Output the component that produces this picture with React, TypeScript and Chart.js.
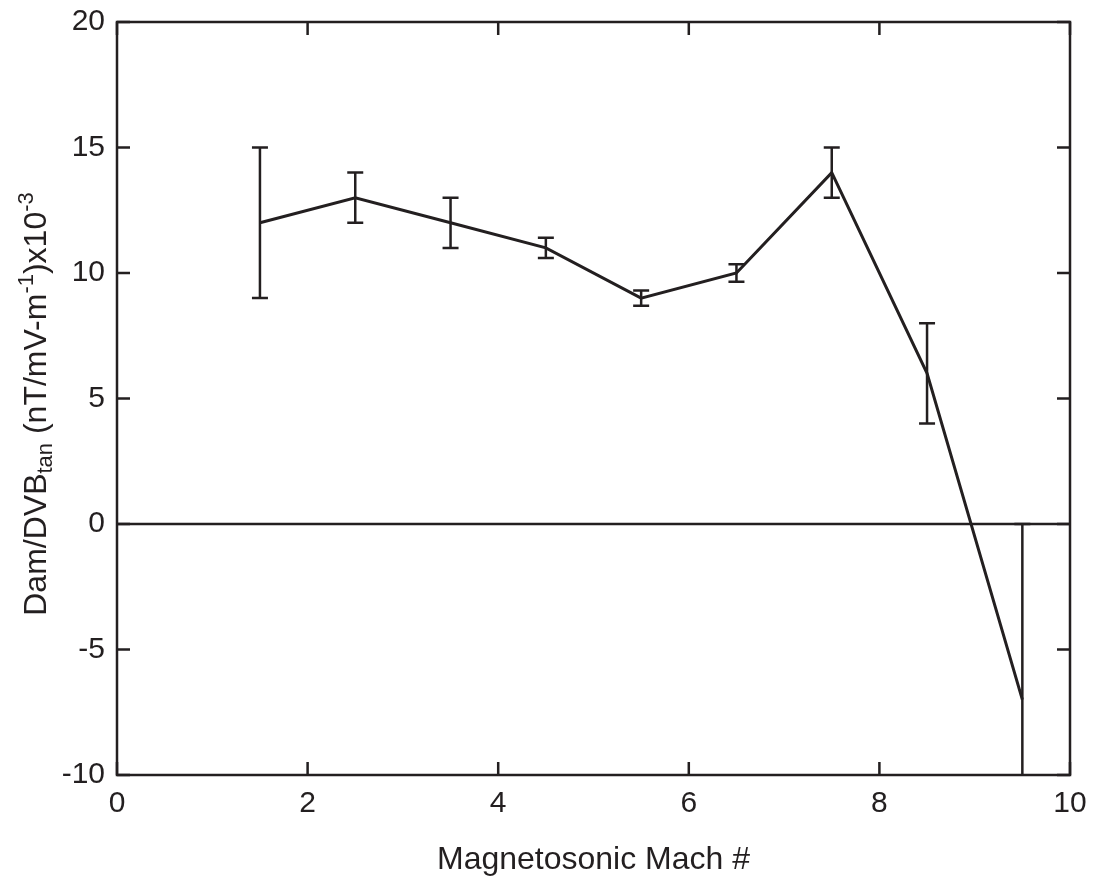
import React, { useEffect, useRef } from 'react';
import { Chart, registerables } from 'chart.js';

Chart.register(...registerables);

// ---- Data ----
const machNumbers = [1.5, 2.5, 3.5, 4.5, 5.5, 6.5, 7.5, 8.5, 9.5];
const ratioValues = [12, 13, 12, 11, 9, 10, 14, 6, -7];
const ratioErrors = [3, 1, 1, 0.4, 0.3, 0.35, 1, 2, 7];
const zeroLineX = [0, 10];
const zeroLineY = [0, 0];
const xTickValues = [0, 2, 4, 6, 8, 10];
const yTickValues = [-10, -5, 0, 5, 10, 15, 20];
const xAxisTitle = 'Magnetosonic Mach #';
// y title pieces: [text, kind]  kind: 'n' normal, 'sub', 'sup'
const yTitleParts: [string, string][] = [
  ['Dam/DVB', 'n'],
  ['tan', 'sub'],
  [' (nT/mV-m', 'n'],
  ['-1', 'sup'],
  [')x10', 'n'],
  ['-3', 'sup'],
];

const INK = '#231f20';
const FONT = '"Liberation Sans", Arial, Helvetica, sans-serif';
const TICK_SIZE = 30;
const TITLE_SIZE = 32;
const SMALL_SIZE = 22;

const decorPlugin = {
  id: 'decor',
  afterDatasetsDraw(chart: any) {
    const { ctx, chartArea, scales } = chart;
    const xs = scales.x;
    const ys = scales.y;
    const { left, right, top, bottom } = chartArea;

    // Error bars (clipped to plot area)
    ctx.save();
    ctx.beginPath();
    ctx.rect(left, top, right - left, bottom - top);
    ctx.clip();
    ctx.strokeStyle = INK;
    ctx.lineWidth = 2.5;
    const cap = 8;
    machNumbers.forEach((m, i) => {
      const px = xs.getPixelForValue(m);
      const y1 = ys.getPixelForValue(ratioValues[i] + ratioErrors[i]);
      const y2 = ys.getPixelForValue(ratioValues[i] - ratioErrors[i]);
      ctx.beginPath();
      ctx.moveTo(px, y1);
      ctx.lineTo(px, y2);
      ctx.moveTo(px - cap, y1);
      ctx.lineTo(px + cap, y1);
      ctx.moveTo(px - cap, y2);
      ctx.lineTo(px + cap, y2);
      ctx.stroke();
    });
    ctx.restore();

    // Frame and inward ticks
    ctx.save();
    ctx.strokeStyle = INK;
    ctx.lineWidth = 2.5;
    ctx.strokeRect(left, top, right - left, bottom - top);
    const tl = 13;
    ctx.beginPath();
    xTickValues.forEach((v) => {
      const px = xs.getPixelForValue(v);
      ctx.moveTo(px, bottom);
      ctx.lineTo(px, bottom - tl);
      ctx.moveTo(px, top);
      ctx.lineTo(px, top + tl);
    });
    yTickValues.forEach((v) => {
      const py = ys.getPixelForValue(v);
      ctx.moveTo(left, py);
      ctx.lineTo(left + tl, py);
      ctx.moveTo(right, py);
      ctx.lineTo(right - tl, py);
    });
    ctx.stroke();
    ctx.restore();

    // X axis title
    ctx.save();
    ctx.fillStyle = INK;
    ctx.font = `${TITLE_SIZE}px ${FONT}`;
    ctx.textAlign = 'center';
    ctx.textBaseline = 'alphabetic';
    ctx.fillText(xAxisTitle, (left + right) / 2, 869);
    ctx.restore();

    // Y axis title with sub/superscripts
    ctx.save();
    ctx.fillStyle = INK;
    ctx.textBaseline = 'alphabetic';
    ctx.textAlign = 'left';
    let total = 0;
    const widths = yTitleParts.map(([t, k]) => {
      ctx.font = `${k === 'n' ? TITLE_SIZE : SMALL_SIZE}px ${FONT}`;
      const w = ctx.measureText(t).width;
      total += w;
      return w;
    });
    const cy = 404;
    ctx.translate(46, cy);
    ctx.rotate(-Math.PI / 2);
    let x = -total / 2;
    yTitleParts.forEach(([t, k], i) => {
      ctx.font = `${k === 'n' ? TITLE_SIZE : SMALL_SIZE}px ${FONT}`;
      const dy = k === 'sub' ? 6 : k === 'sup' ? -13 : 0;
      ctx.fillText(t, x, dy);
      x += widths[i];
    });
    ctx.restore();
  },
};

export default function App() {
  const canvasRef = useRef<HTMLCanvasElement | null>(null);

  useEffect(() => {
    const canvas = canvasRef.current;
    if (!canvas) return;
    const chart = new Chart(canvas, {
      type: 'line',
      data: {
        datasets: [
          {
            label: 'ratio',
            data: machNumbers.map((m, i) => ({ x: m, y: ratioValues[i] })),
            borderColor: INK,
            borderWidth: 3,
            pointRadius: 0,
            fill: false,
            tension: 0,
          },
          {
            label: 'zero',
            data: zeroLineX.map((v, i) => ({ x: v, y: zeroLineY[i] })),
            borderColor: INK,
            borderWidth: 2.5,
            pointRadius: 0,
            fill: false,
          },
        ],
      },
      options: {
        responsive: false,
        animation: false,
        devicePixelRatio: 1,
        layout: { padding: { top: 22, right: 24, left: 0, bottom: 0 } },
        plugins: {
          legend: { display: false },
          tooltip: { enabled: false },
          title: { display: false },
        },
        scales: {
          x: {
            type: 'linear',
            min: 0,
            max: 10,
            afterBuildTicks: (scale: any) => {
              scale.ticks = xTickValues.map((v) => ({ value: v }));
            },
            afterFit: (scale: any) => {
              scale.height = 107;
              scale.paddingLeft = 0;
              scale.paddingRight = 0;
            },
            grid: { display: false, drawTicks: false },
            border: { display: false },
            ticks: {
              color: INK,
              font: { size: TICK_SIZE, family: FONT },
              padding: 11,
              maxRotation: 0,
              autoSkip: false,
            },
          },
          y: {
            type: 'linear',
            min: -10,
            max: 20,
            afterBuildTicks: (scale: any) => {
              scale.ticks = yTickValues.map((v) => ({ value: v }));
            },
            afterFit: (scale: any) => {
              scale.width = 117;
              scale.paddingTop = 0;
              scale.paddingBottom = 0;
            },
            grid: { display: false, drawTicks: false },
            border: { display: false },
            ticks: {
              color: INK,
              font: { size: TICK_SIZE, family: FONT },
              padding: 12,
              autoSkip: false,
            },
          },
        },
      },
      plugins: [decorPlugin],
    });
    return () => chart.destroy();
  }, []);

  return (
    <div style={{ position: 'fixed', left: 0, top: 0, width: 1094, height: 882, background: '#fff' }}>
      <canvas ref={canvasRef} width={1094} height={882} />
    </div>
  );
}
